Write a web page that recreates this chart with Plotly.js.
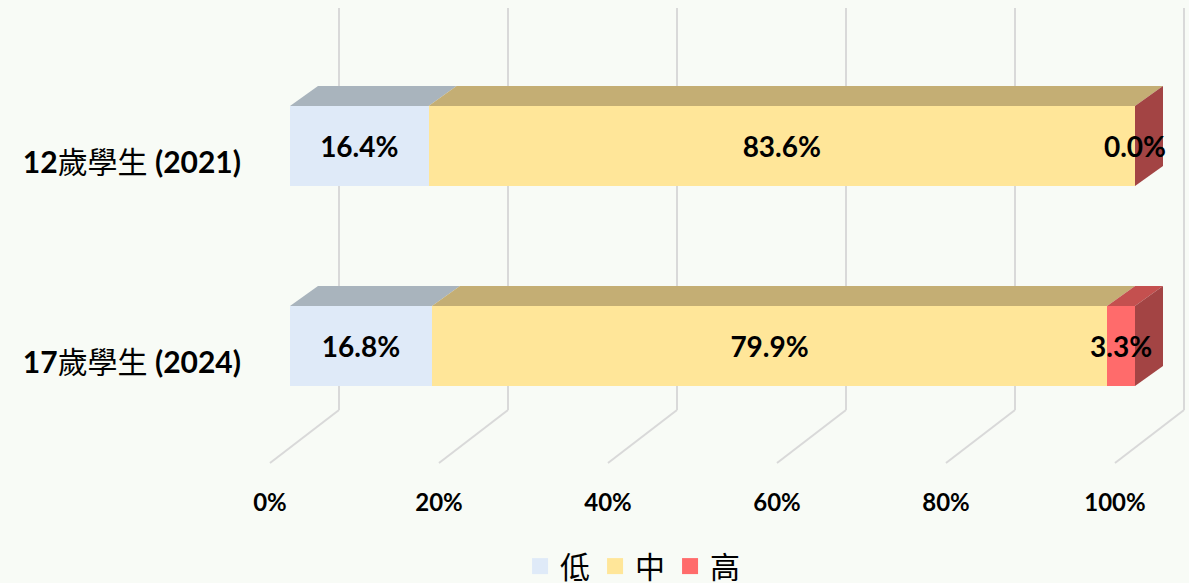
<!DOCTYPE html>
<html>
<head>
<meta charset="utf-8">
<script src="https://cdn.plot.ly/plotly-3.0.1.min.js"></script>
<style>html,body{margin:0;padding:0;background:#f8fbf6;}#chart{width:1189px;height:583px;}</style>
</head>
<body>
<div id="chart"></div>
<script>
// ---- data ----
const categories = ['12歲學生 (2021)', '17歲學生 (2024)'];
const seriesNames = ['低', '中', '高'];
const lowValues = [16.4, 16.8];
const midValues = [83.6, 79.9];
const highValues = [0.0, 3.3];
const tickVals = [0, 20, 40, 60, 80, 100];
const tickText = ['0%', '20%', '40%', '60%', '80%', '100%'];

// ---- styling ----
const frontColors = ['#dfeaf8', '#ffe699', '#ff6b6b'];
const topColors = ['#a9b4bd', '#c4ae74', '#c4504f'];
const sideColor = '#a34444';
const bg = '#f8fbf6';
const FONT = "Lato, 'Noto Sans CJK TC', sans-serif";

const pxPerUnitX = 8.45;       // 845px for 100%
const pxPerUnitY = 200;        // 200px between categories
const barWidth = 0.4;
const depthX = 28 / pxPerUnitX, depthY = 20 / pxPerUnitY; // bar depth
const wallX = 49 / pxPerUnitX;                               // back-wall offset
const floorX = -20 / pxPerUnitX;                             // floor front offset
const marginL = 250, marginB = 113, W = 1189, H = 583;
const plotW = W - marginL, plotH = H - marginB;
const x0 = -(290 - marginL) / pxPerUnitX;
const y0 = -(plotH - 346) / pxPerUnitY;
const pxToY = p => y0 + (plotH - p) / pxPerUnitY;
const labelDrop = 4 / pxPerUnitY;

const series = [lowValues, midValues, highValues];
const yPos = categories.map((c, i) => categories.length - 1 - i);

const traces = [];
// front faces
series.forEach((vals, s) => {
  traces.push({
    type: 'bar', orientation: 'h', x: vals, y: yPos, width: barWidth,
    name: seriesNames[s], marker: {color: frontColors[s], line: {width: 0}},
    showlegend: false, hoverinfo: 'skip'
  });
});
// top and side faces, labels
const lx = [], ly = [], lt = [];
categories.forEach((c, i) => {
  let start = 0;
  const yc = yPos[i], yt = yc + barWidth / 2, yb = yc - barWidth / 2;
  series.forEach((vals, s) => {
    const v = vals[i], end = start + v;
    if (v > 0) {
      traces.push({
        type: 'scatter', mode: 'lines', fill: 'toself', fillcolor: topColors[s],
        line: {width: 0, color: topColors[s]},
        x: [start, end, end + depthX, start + depthX, start],
        y: [yt, yt, yt + depthY, yt + depthY, yt],
        showlegend: false, hoverinfo: 'skip'
      });
    }
    lx.push(start + v / 2); ly.push(yc - labelDrop); lt.push(v.toFixed(1) + '%');
    start = end;
  });
  traces.push({
    type: 'scatter', mode: 'lines', fill: 'toself', fillcolor: sideColor,
    line: {width: 0, color: sideColor},
    x: [start, start + depthX, start + depthX, start, start],
    y: [yt, yt + depthY, yb + depthY, yb, yt],
    showlegend: false, hoverinfo: 'skip'
  });
});
traces.push({
  type: 'scatter', mode: 'text', x: lx, y: ly, text: lt,
  textposition: 'middle center',
  textfont: {family: FONT, size: 28, color: '#000', weight: 'bold'},
  showlegend: false, hoverinfo: 'skip'
});
// legend entries
seriesNames.forEach((n, s) => {
  traces.push({
    type: 'scatter', mode: 'markers', x: [null], y: [null], name: n,
    marker: {symbol: 'square', size: 18, color: frontColors[s]}
  });
});

// gridlines (back wall + floor)
const shapes = [];
tickVals.forEach(v => {
  shapes.push({type: 'line', layer: 'below', xref: 'x', yref: 'y',
    x0: v + wallX, x1: v + wallX, y0: pxToY(8), y1: pxToY(410),
    line: {color: '#d9d9d9', width: 2}});
  shapes.push({type: 'line', layer: 'below', xref: 'x', yref: 'y',
    x0: v + wallX, x1: v + floorX, y0: pxToY(410), y1: pxToY(463),
    line: {color: '#d9d9d9', width: 2}});
});

const boldLatin = t => t.replace(/([^\u4e00-\u9fff]+)/g, '<b>$1</b>');

const layout = {
  width: W, height: H,
  margin: {l: marginL, r: 0, t: 0, b: marginB, pad: 0},
  paper_bgcolor: bg, plot_bgcolor: bg,
  barmode: 'stack',
  showlegend: true,
  legend: {orientation: 'h', xref: 'container', yref: 'container',
    x: 0.532, xanchor: 'center', y: 0.029, yanchor: 'middle',
    font: {family: FONT, size: 30, color: '#000'}, itemwidth: 30, traceorder: 'normal'},
  xaxis: {range: [x0, x0 + plotW / pxPerUnitX], showgrid: false, zeroline: false,
    showline: false, tickvals: tickVals, ticktext: tickText, ticks: '',
    ticklabelshift: -20, ticklabelstandoff: 16,
    tickfont: {family: FONT, size: 24, color: '#000', weight: 'bold'}, fixedrange: true},
  yaxis: {range: [y0, y0 + plotH / pxPerUnitY], showgrid: false, zeroline: false,
    showline: false, tickvals: yPos, ticktext: categories.map(boldLatin), ticks: '',
    ticklabelshift: 16, ticklabelstandoff: 8,
    tickfont: {family: FONT, size: 30, color: '#000'}, fixedrange: true},
  shapes: shapes
};

Plotly.newPlot('chart', traces, layout, {displayModeBar: false, staticPlot: true});
</script>
</body>
</html>
